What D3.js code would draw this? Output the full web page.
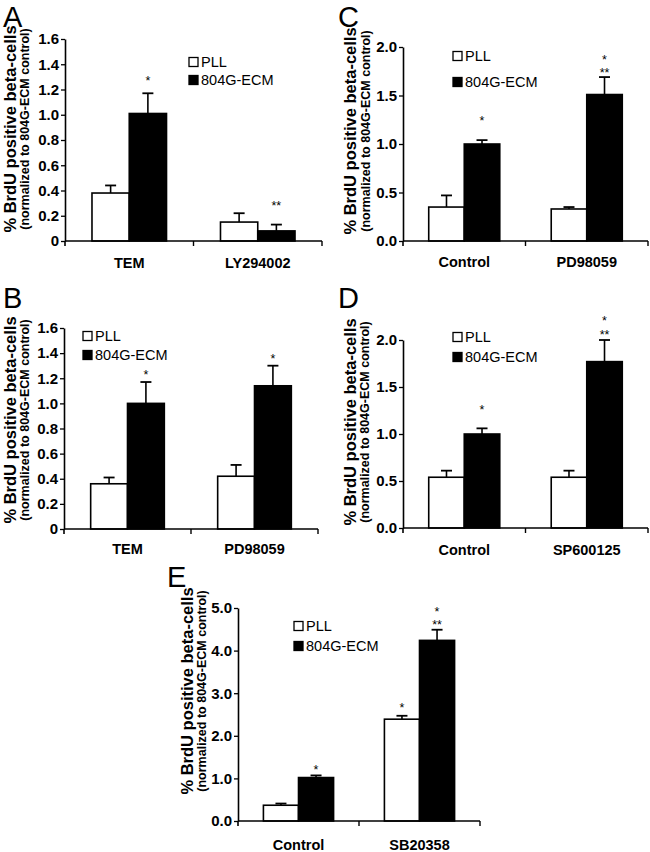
<!DOCTYPE html>
<html><head><meta charset="utf-8">
<script src="https://cdn.jsdelivr.net/npm/d3@7"></script>
<style>
body{margin:0;background:#fff}
svg{display:block}
text{font-family:"Liberation Sans",Arial,Helvetica,sans-serif;fill:#000}
</style>
</head><body>
<svg id="chart" width="650" height="852"></svg>
<script>
// ---------- DATA ----------
const seriesNames = ["PLL", "804G-ECM"];
const seriesFill = ["#ffffff", "#000000"];
const yTitle1 = "% BrdU positive beta-cells";
const yTitle2 = "(normalized to 804G-ECM control)";

// Panel A
const catsA = ["TEM", "LY294002"];
const pllA = [0.38, 0.15];
const pllErrA = [0.06, 0.07];
const ecmA = [1.01, 0.08];
const ecmErrA = [0.16, 0.05];
const ticksA = [0, 0.2, 0.4, 0.6, 0.8, 1.0, 1.2, 1.4, 1.6];
const tickLabelsA = ["0", "0.2", "0.4", "0.6", "0.8", "1.0", "1.2", "1.4", "1.6"];
const starsA = [{cat: 0, s: 1, text: "*", v: 1.29}, {cat: 1, s: 1, text: "**", v: 0.30}];

// Panel B
const catsB = ["TEM", "PD98059"];
const pllB = [0.36, 0.42];
const pllErrB = [0.05, 0.09];
const ecmB = [1.0, 1.14];
const ecmErrB = [0.17, 0.16];
const ticksB = [0, 0.2, 0.4, 0.6, 0.8, 1.0, 1.2, 1.4, 1.6];
const tickLabelsB = ["0", "0.2", "0.4", "0.6", "0.8", "1.0", "1.2", "1.4", "1.6"];
const starsB = [{cat: 0, s: 1, text: "*", v: 1.25}, {cat: 1, s: 1, text: "*", v: 1.38}];

// Panel C
const catsC = ["Control", "PD98059"];
const pllC = [0.35, 0.33];
const pllErrC = [0.12, 0.02];
const ecmC = [1.0, 1.51];
const ecmErrC = [0.04, 0.18];
const ticksC = [0, 0.5, 1.0, 1.5, 2.0];
const tickLabelsC = ["0.0", "0.5", "1.0", "1.5", "2.0"];
const starsC = [{cat: 0, s: 1, text: "*", v: 1.27}, {cat: 1, s: 1, text: "*", v: 1.90}, {cat: 1, s: 1, text: "**", v: 1.76}];

// Panel D
const catsD = ["Control", "SP600125"];
const pllD = [0.54, 0.54];
const pllErrD = [0.07, 0.07];
const ecmD = [1.0, 1.77];
const ecmErrD = [0.06, 0.23];
const ticksD = [0, 0.5, 1.0, 1.5, 2.0];
const tickLabelsD = ["0.0", "0.5", "1.0", "1.5", "2.0"];
const starsD = [{cat: 0, s: 1, text: "*", v: 1.29}, {cat: 1, s: 1, text: "*", v: 2.23}, {cat: 1, s: 1, text: "**", v: 2.09}];

// Panel E
const catsE = ["Control", "SB20358"];
const pllE = [0.37, 2.39];
const pllErrE = [0.04, 0.08];
const ecmE = [1.02, 4.24];
const ecmErrE = [0.05, 0.25];
const ticksE = [0, 1, 2, 3, 4, 5];
const tickLabelsE = ["0.0", "1.0", "2.0", "3.0", "4.0", "5.0"];
const starsE = [{cat: 0, s: 1, text: "*", v: 1.27}, {cat: 1, s: 0, text: "*", v: 2.72}, {cat: 1, s: 1, text: "*", v: 4.97}, {cat: 1, s: 1, text: "**", v: 4.66}];

// ---------- LAYOUT ----------
const panels = [
  {letter: "A", cats: catsA, vals: [pllA, ecmA], errs: [pllErrA, ecmErrA], ticks: ticksA, tickLabels: tickLabelsA, stars: starsA,
   x0: 65, x1: 322, yb: 241, yt: 39, lx: 189, ly: [62, 80], letterX: 3, letterY: 27, tc: 129, t1: 49, t2: 36, xl: 27},
  {letter: "B", cats: catsB, vals: [pllB, ecmB], errs: [pllErrB, ecmErrB], ticks: ticksB, tickLabels: tickLabelsB, stars: starsB,
   x0: 64, x1: 318, yb: 529, yt: 328, lx: 83, ly: [336, 355], letterX: 3, letterY: 308, tc: 420, t1: 48, t2: 35, xl: 25},
  {letter: "C", cats: catsC, vals: [pllC, ecmC], errs: [pllErrC, ecmErrC], ticks: ticksC, tickLabels: tickLabelsC, stars: starsC,
   x0: 403, x1: 648, yb: 241, yt: 47, lx: 453, ly: [56, 82], letterX: 338, letterY: 27, tc: 131, t1: 47, t2: 33, xl: 26},
  {letter: "D", cats: catsD, vals: [pllD, ecmD], errs: [pllErrD, ecmErrD], ticks: ticksD, tickLabels: tickLabelsD, stars: starsD,
   x0: 403, x1: 648, yb: 528, yt: 340, lx: 453, ly: [337, 357], letterX: 338, letterY: 308, tc: 422, t1: 47, t2: 34, xl: 27},
  {letter: "E", cats: catsE, vals: [pllE, ecmE], errs: [pllErrE, ecmErrE], ticks: ticksE, tickLabels: tickLabelsE, stars: starsE,
   x0: 238, x1: 480, yb: 821, yt: 608, lx: 294, ly: [626, 646], letterX: 167, letterY: 587, tc: 691, t1: 45, t2: 32, xl: 29}
];

const svg = d3.select("#chart");

panels.forEach(p => {
  const g = svg.append("g");
  const ymax = p.ticks[p.ticks.length - 1];
  const y = d3.scaleLinear().domain([0, ymax]).range([p.yb, p.yt]);
  const x = d3.scaleBand().domain(p.cats).range([p.x0, p.x1]).paddingInner(0).paddingOuter(0);
  const bw = x.bandwidth() * 0.29;

  // bars
  p.cats.forEach((c, i) => {
    const cx = x(c) + x.bandwidth() / 2;
    [0, 1].forEach(s => {
      const v = p.vals[s][i], e = p.errs[s][i];
      const bx = s === 0 ? cx - bw : cx;
      const mid = bx + bw / 2;
      g.append("line").attr("x1", mid).attr("x2", mid).attr("y1", y(v)).attr("y2", y(v + e))
        .attr("stroke", "#000").attr("stroke-width", 1.6);
      g.append("line").attr("x1", mid - 5.5).attr("x2", mid + 5.5).attr("y1", y(v + e)).attr("y2", y(v + e))
        .attr("stroke", "#000").attr("stroke-width", 1.8);
      g.append("rect").attr("x", bx).attr("y", y(v)).attr("width", bw).attr("height", y(0) - y(v))
        .attr("fill", seriesFill[s]).attr("stroke", "#000").attr("stroke-width", 1.6);
    });
  });

  // stars
  p.stars.forEach(st => {
    const c = p.cats[st.cat];
    const cx = x(c) + x.bandwidth() / 2;
    const mid = st.s === 0 ? cx - bw / 2 : cx + bw / 2;
    g.append("text").attr("x", mid).attr("y", y(st.v) + 7).attr("text-anchor", "middle")
      .attr("font-size", 12.5).text(st.text);
  });

  // y axis
  const yAxis = d3.axisLeft(y).tickValues(p.ticks).tickFormat((d, i) => p.tickLabels[i])
    .tickSize(4).tickSizeOuter(0).tickPadding(2);
  const ya = g.append("g").attr("transform", `translate(${p.x0},0)`).call(yAxis);
  ya.select(".domain").attr("stroke", "#000").attr("stroke-width", 1.6);
  ya.selectAll(".tick line").attr("stroke", "#000").attr("stroke-width", 1.3);
  ya.selectAll(".tick text").attr("font-size", 15).attr("font-weight", "bold")
    .attr("font-family", '"Liberation Sans",Arial,sans-serif').attr("fill", "#000");
  g.append("line").attr("x1", p.x0).attr("x2", p.x0).attr("y1", p.yb).attr("y2", p.yb + 5)
    .attr("stroke", "#000").attr("stroke-width", 1.6);

  // x axis
  g.append("line").attr("x1", p.x0).attr("x2", p.x1).attr("y1", p.yb).attr("y2", p.yb)
    .attr("stroke", "#000").attr("stroke-width", 1.6);
  const bounds = p.cats.slice(1).map(c => x(c)).concat([x.range()[1]]);
  bounds.forEach(bx => {
    g.append("line").attr("x1", bx).attr("x2", bx).attr("y1", p.yb).attr("y2", p.yb + 5)
      .attr("stroke", "#000").attr("stroke-width", 1.4);
  });
  p.cats.forEach(c => {
    g.append("text").attr("x", x(c) + x.bandwidth() / 2).attr("y", p.yb + p.xl)
      .attr("text-anchor", "middle").attr("font-size", 14.5).attr("font-weight", "bold").text(c);
  });

  // y title (two lines)
  g.append("text").attr("transform", `translate(${p.x0 - p.t1},${p.tc}) rotate(-90)`)
    .attr("text-anchor", "middle").attr("font-size", 16.5).attr("font-weight", "bold").text(yTitle1);
  g.append("text").attr("transform", `translate(${p.x0 - p.t2},${p.tc}) rotate(-90)`)
    .attr("text-anchor", "middle").attr("font-size", 12.5).attr("font-weight", "bold").text(yTitle2);

  // legend
  seriesNames.forEach((n, s) => {
    const cy = p.ly[s];
    g.append("rect").attr("x", p.lx).attr("y", cy - 4.5).attr("width", 9).attr("height", 9)
      .attr("fill", seriesFill[s]).attr("stroke", "#000").attr("stroke-width", 1.3);
    g.append("text").attr("x", p.lx + 12).attr("y", cy + 5).attr("font-size", 14.5).text(n);
  });

  // panel letter
  g.append("text").attr("x", p.letterX).attr("y", p.letterY).attr("font-size", 29).text(p.letter);
});
</script>
</body></html>
